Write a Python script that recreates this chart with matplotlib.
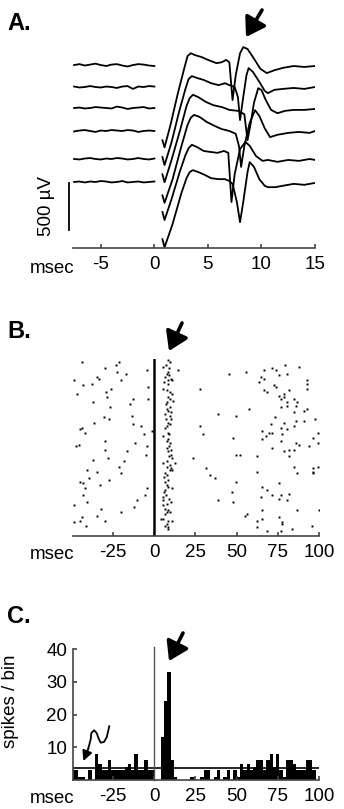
import matplotlib
matplotlib.use("Agg")
import matplotlib.pyplot as plt
from matplotlib.patches import FancyArrowPatch

plt.rcParams['font.family'] = ['Liberation Sans', 'DejaVu Sans']
plt.rcParams['axes.unicode_minus'] = False

# ---------------- panel A: evoked field potentials (uV, ms) ----------------
trace_offsets = [1934, 1702, 1480, 1237, 941, 698]
pre_t = [-7.5, -7.0, -6.5, -6.0, -5.5, -5.0, -4.5, -4.0, -3.5, -3.0, -2.5, -2.0, -1.5, -1.0, -0.5, 0.0]
pre_v = [
    [0, 10, -5, 5, 15, 0, -10, 5, 10, -5, -15, 0, 10, 5, -5, -10],
    [5, -5, 0, 10, 0, -5, 5, 0, -10, 5, 10, -20, 5, 0, 10, 5],
    [0, 5, -5, 0, 10, 5, 0, -5, 15, 5, -10, 0, 5, 10, -5, 0],
    [-5, 5, 10, 0, -10, 5, 0, 10, 5, 0, 10, 5, -10, 0, 5, 0],
    [0, -5, 5, 10, 0, -5, 5, 0, 10, 5, -5, 0, 10, 0, -5, 5],
    [0, 5, -5, 5, 0, 10, 5, -5, 0, 10, -5, 0, 5, -5, 0, 5],
]
post_t = [
    [0.75, 0.95, 1.5, 2.2, 2.8, 3.1, 3.4, 3.8, 4.4, 5.0, 5.8, 6.3, 6.7, 7.0, 7.3, 7.6, 8.0, 8.3, 8.7, 9.2, 9.9, 10.5, 11.2, 12.0, 13.0, 14.0, 15.0],
    [0.75, 0.95, 1.6, 2.3, 2.9, 3.2, 3.5, 4.0, 4.6, 5.3, 6.0, 6.6, 7.0, 7.5, 7.8, 8.0, 8.3, 8.6, 8.8, 9.2, 9.8, 10.3, 10.6, 11.2, 12.0, 13.0, 14.0, 15.0],
    [0.75, 0.95, 1.6, 2.4, 3.0, 3.3, 3.6, 4.1, 4.8, 5.5, 6.3, 7.0, 7.8, 8.4, 8.7, 9.0, 9.3, 9.7, 10.0, 10.4, 10.9, 11.5, 12.2, 13.0, 14.0, 15.0],
    [0.75, 0.95, 1.7, 2.5, 3.1, 3.4, 3.7, 4.2, 4.9, 5.6, 6.3, 7.0, 7.6, 7.9, 8.1, 8.4, 8.9, 9.4, 9.8, 10.3, 10.8, 11.5, 12.5, 13.5, 14.5, 15.0],
    [0.75, 0.95, 1.6, 2.4, 2.9, 3.2, 3.5, 4.0, 4.6, 5.2, 5.9, 6.5, 6.9, 7.2, 7.5, 8.0, 8.5, 8.9, 9.5, 10.1, 10.6, 11.5, 12.5, 13.5, 14.5, 15.0],
    [0.75, 0.95, 1.7, 2.5, 3.0, 3.3, 3.6, 4.1, 4.7, 5.3, 6.0, 6.6, 7.0, 7.3, 7.7, 8.0, 8.3, 8.7, 8.9, 9.3, 9.8, 10.3, 10.6, 11.3, 12.0, 13.0, 14.0, 15.0],
]
post_v = [
    [-795, -870, -635, -295, -30, 95, 125, 105, 85, 55, 20, 30, 55, 30, -370, -105, 125, 190, 170, 85, -40, -85, -55, -30, -10, -20, -10],
    [-740, -825, -585, -265, -20, 85, 115, 95, 75, 40, 20, 40, 20, 0, -105, -350, -105, 125, 200, 160, 55, -40, -65, -30, -20, -10, -20, 0],
    [-700, -785, -550, -235, 20, 105, 140, 115, 65, 30, 10, -20, -30, -65, -340, -160, 55, 210, 190, 85, -20, -55, -30, -20, -20, -10],
    [-680, -760, -510, -170, 65, 140, 170, 150, 95, 55, 20, 0, -30, -160, -380, -160, 85, 220, 160, 30, -65, -40, -20, -10, -20, 0],
    [-560, -645, -425, -125, 40, 115, 150, 125, 85, 75, 65, 85, 65, -455, -160, 105, 180, 140, 30, -20, -10, -30, -10, -20, 0, -10],
    [-605, -690, -445, -125, 40, 105, 125, 105, 75, 40, 30, 30, 10, -20, -210, -425, -210, 105, 210, 160, 30, -40, -55, -55, -40, -20, -30, -10],
]
ticks_a = [-5, 0, 5, 10, 15]

# ---------------- panel B: raster (ms, trial) ----------------
pre_ms = [-44.0, -21.4, -23.4, -29.9, -22.8, -4.6, -17.2, -35.0, -33.3, -48.7, -43.4, -38.0, -20.2, -3.6,
          -29.3, -26.5, -47.1, -13.1, -28.5, -37.0, -3.6, -14.7, -26.9, -30.3, -27.3, -36.4, -13.7, -12.7,
          -8.3, -43.8, -45.1, -42.0, -1.2, -6.3, -11.7, -4.6, -47.7, -45.9, -29.7, -30.1, -16.8, -5.1,
          -27.9, -37.4, -18.2, -21.4, -41.0, -34.5, -39.4, -20.4, -45.1, -27.5, -32.9, -43.4, -42.2, -4.2,
          -5.3, -43.4, -40.6, -10.3, -48.5, -32.1, -12.1, -35.0, -20.4, -44.0, -48.5, -45.1, -30.1, -41.4]
pre_trial = [100, 100, 98, 96, 94, 95, 93, 91, 90, 89, 86, 87, 89, 85,
             82, 84, 81, 78, 79, 76, 78, 75, 73, 67, 66, 64, 68, 63,
             62, 61, 60, 58, 59, 57, 52, 50, 50, 51, 53, 48, 47, 45,
             43, 42, 41, 38, 36, 35, 31, 34, 29, 30, 27, 28, 25, 25,
             21, 21, 17, 18, 15, 13, 14, 9, 11, 8, 5, 6, 6, 3]
evoked_ms = [8.5, 9.5, 7.1, 5.5, 8.9, 14.7, 8.5, 7.9, 9.1, 6.5, 9.9, 8.1, 10.9, 5.9, 8.5, 5.5, 7.5, 9.5,
             10.5, 8.5, 9.5, 11.5, 7.5, 6.9, 9.5, 7.9, 8.5, 9.9, 6.5, 9.5, 7.1, 9.9, 8.5, 9.5, 7.5, 6.5,
             8.5, 8.9, 5.5, 8.5, 7.9, 9.5, 9.1, 7.5, 9.9, 8.5, 9.9, 9.1, 10.5, 7.9, 5.5, 12.5, 9.5, 7.5,
             10.3, 9.5, 10.9, 6.5, 7.9, 5.9, 8.5, 6.5, 7.5, 8.5, 10.5, 6.5, 5.9, 7.1, 5.1, 9.1, 5.5, 9.9,
             7.5, 5.5, 6.5, 8.5, 7.5, 9.5, 6.5, 4.4, 5.5, 8.5, 10.5, 7.5, 6.5, 8.5, 8.5]
evoked_trial = [101, 100, 98, 97, 96, 95, 94, 93, 92, 91, 90, 89, 89, 88, 87, 84, 83, 82,
                81, 79, 78, 77, 76, 75, 73, 72, 71, 70, 69, 68, 66, 66, 64, 63, 62, 61,
                58, 57, 56, 54, 53, 52, 50, 49, 48, 47, 45, 44, 43, 41, 40, 40, 39, 38,
                37, 36, 36, 34, 33, 32, 30, 29, 27, 26, 25, 24, 23, 21, 20, 19, 18, 17,
                16, 15, 13, 12, 11, 11, 10, 7, 7, 6, 6, 4, 3, 2, 1]
mid_ms = [45.5, 55.6, 27.7, 38.8, 49.5, 57.6, 27.7, 29.7, 47.9, 49.5, 52.3, 23.6, 31.7, 33.7, 36.8,
          49.5, 46.9, 38.8, 47.9, 54.9, 56.6]
mid_trial = [93, 94, 84, 69, 68, 72, 62, 57, 55, 45, 45, 43, 37, 33, 31, 29, 23, 18, 17, 9, 10]
late_ms = [79.6, 87.7, 66.7, 71.7, 73.7, 75.8, 80.6, 64.6, 66.7, 63.6, 92.7, 92.7, 92.7, 72.7, 73.7,
           66.7, 68.7, 81.8, 78.8, 75.8, 78.8, 76.8, 84.8, 80.8, 86.9, 76.8, 80.8, 85.9, 84.8, 90.7,
           92.7, 73.5, 97.4, 85.9, 90.7, 70.7, 78.8, 76.8, 84.8, 80.8, 65.7, 69.7, 71.7, 67.7, 77.8,
           99.6, 96.4, 65.7, 76.8, 85.9, 87.9, 93.9, 99.6, 71.7, 81.8, 78.8, 84.8, 62.6, 81.8, 84.8,
           99.6, 96.4, 96.4, 96.4, 86.9, 62.6, 65.7, 75.8, 68.5, 81.8, 64.6, 71.7, 76.8, 75.8, 80.8,
           65.7, 86.9, 100.0, 75.8, 65.7, 62.6, 77.8, 77.8, 95.6, 62.6, 83.8, 68.7, 76.8]
late_trial = [98, 97, 95, 96, 95, 92, 93, 91, 90, 88, 89, 87, 84, 86, 85,
              83, 82, 83, 81, 80, 79, 78, 78, 76, 76, 73, 74, 74, 70, 71,
              72, 67, 66, 65, 65, 63, 64, 61, 62, 60, 59, 58, 58, 56, 57,
              58, 55, 54, 53, 52, 51, 50, 52, 49, 48, 47, 48, 44, 44, 38,
              38, 37, 35, 34, 34, 35, 26, 28, 24, 22, 20, 21, 21, 19, 18,
              12, 12, 12, 8, 7, 6, 5, 4, 3, 2, 1, 0, 0]
ticks_b = [-25, 0, 25, 50, 75, 100]

# ---------------- panel C: PSTH, 2 ms bins from -50 ms ----------------
bin_left = list(range(-50, 100, 2))
counts = [3, 3, 1, 1, 0, 3, 0, 8, 5, 3, 3, 6, 3, 3, 3, 3, 4, 5, 3, 8, 3, 3, 6, 3, 3,
          0, 0, 13, 24, 33, 6, 1, 0, 0, 0, 0, 1, 0, 0, 1, 3, 3, 0, 1, 3, 0, 1, 3, 0, 3,
          1, 5, 3, 5, 3, 4, 6, 6, 3, 6, 8, 4, 8, 3, 1, 6, 6, 5, 3, 3, 3, 6, 6, 3, 0]
edge_count = 10
mean_rate = 3.6
ticks_c_y = [10, 20, 30, 40]

W, H = 344, 809
fig = plt.figure(figsize=(W / 100, H / 100), dpi=100)


def px_axes(x0, y0, x1, y1):
    return fig.add_axes([x0 / W, 1 - y1 / H, (x1 - x0) / W, (y1 - y0) / H])


def fpos(x, y):
    return (x / W, 1 - y / H)


FS = 13.5


def style_axis(ax, xticks):
    for s in ['top', 'right', 'left']:
        ax.spines[s].set_visible(False)
    ax.spines['bottom'].set_color('#444444')
    ax.spines['bottom'].set_linewidth(1.2)
    ax.set_yticks([])
    ax.set_xticks(xticks)
    ax.set_xticklabels([str(t) for t in xticks])
    ax.tick_params(axis='x', direction='in', length=3, width=1.2, color='#444444',
                   labelsize=FS, pad=6)


# panel A
axA = px_axes(73, 40, 315, 248)
for off, pv, tt, vv in zip(trace_offsets, pre_v, post_t, post_v):
    axA.plot(pre_t, [off + v for v in pv], color='black', lw=1.3)
    axA.plot(tt, [off + v for v in vv], color='black', lw=1.3)
axA.set_xlim(-7.6, 15)
axA.set_ylim(0, 2199)
style_axis(axA, ticks_a)
axA.plot([-8.0, -8.0], [190, 690], color='black', lw=1.3, clip_on=False)
axA.text(-10.1, 440, '500 µV', rotation=90, ha='center', va='center', fontsize=FS)

# panel B
axB = px_axes(73, 359, 319, 536)
axB.axvline(0, color='black', lw=1.8)
for xs, ys in [(pre_ms, pre_trial), (evoked_ms, evoked_trial), (mid_ms, mid_trial), (late_ms, late_trial)]:
    axB.plot(xs, ys, 's', color='black', ms=1.4, mew=0)
axB.set_xlim(-49.3, 100)
axB.set_ylim(-3.1, 101.6)
style_axis(axB, ticks_b)

# panel C
axC = px_axes(73, 649, 319, 780)
axC.bar(bin_left, counts, width=2, align='edge', color='black', lw=0)
axC.bar([99.7], [edge_count], width=0.6, align='edge', color='black', lw=0, clip_on=False)
axC.axhline(mean_rate, color='black', lw=1.2)
axC.plot([0, 0], [0, 40.5], color='#555555', lw=1.0, clip_on=False)
axC.set_xlim(-49.3, 100)
axC.set_ylim(0, 40)
style_axis(axC, ticks_b)
axC.spines['left'].set_visible(True)
axC.spines['left'].set_color('#444444')
axC.spines['left'].set_linewidth(1.2)
axC.set_yticks(ticks_c_y)
axC.tick_params(axis='y', direction='in', length=3, width=1.2, color='#444444',
                labelsize=FS, pad=4)
axC.set_ylabel('spikes / bin', fontsize=FS)
axC.yaxis.set_label_coords((19 - 73) / 246, (780 - 701) / 131)

# wavy arrow in C
wave_x = [-27.3, -28.8, -30.5, -32.5, -33.7, -34.9, -36.5, -38.2, -38.5, -40.0]
wave_y = [16.4, 13.1, 11.6, 11.4, 12.6, 14.3, 15.2, 14.3, 12.6, 9.6]
axC.plot(wave_x, wave_y, color='black', lw=1.3, clip_on=False)
axC.annotate('', xy=(-43.0, 5.8), xytext=(-40.0, 9.6),
             arrowprops=dict(arrowstyle='-|>,head_length=0.5,head_width=0.25', lw=1.3,
                             color='black', mutation_scale=12, shrinkA=0, shrinkB=0),
             annotation_clip=False)

# msec labels
for yb in [273, 559, 803]:
    fig.text(*fpos(74, yb), 'msec', ha='right', va='baseline', fontsize=FS)

# panel labels
for lab, yb in [('A.', 30), ('B.', 338), ('C.', 623)]:
    fig.text(*fpos(7, yb), lab, ha='left', va='baseline', fontsize=17, fontweight='bold')

# bold arrows
for tail, tip in [((262, 10), (246, 37)), ((182, 323), (169, 351)), ((183, 633), (169, 661))]:
    arr = FancyArrowPatch(fpos(*tail), fpos(*tip), transform=fig.transFigure,
                          arrowstyle='-|>,head_length=0.7,head_width=0.45', mutation_scale=16,
                          lw=2.6, color='black', shrinkA=0, shrinkB=0)
    fig.add_artist(arr)

fig.savefig('out.png', dpi=100)
